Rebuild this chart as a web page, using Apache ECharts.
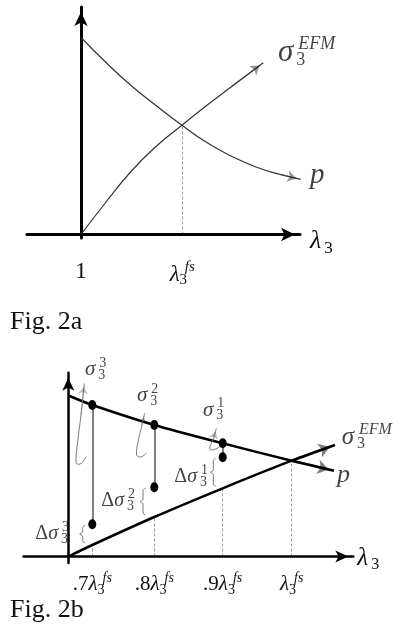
<!DOCTYPE html>
<html><head><meta charset="utf-8">
<script src="https://cdn.jsdelivr.net/npm/echarts@6/dist/echarts.min.js"></script>
<style>html,body{margin:0;padding:0;background:#fff}#c{width:400px;height:632px}</style>
</head><body><div id="c"></div>
<script>
// ================= Fig. 2a (schematic, arbitrary units) =================
const a_pCurve = [[0,1.97],[0.25,1.72],[0.5,1.49],[0.75,1.29],[1.0,1.10],[1.25,0.925],[1.5,0.785],[1.75,0.675],[2.0,0.598],[2.197,0.552]];
const a_sigmaCurve = [[0,0],[0.25,0.325],[0.5,0.63],[0.75,0.88],[1.0,1.085],[1.25,1.285],[1.5,1.475],[1.823,1.718]];
const a_fs = [1.013, 1.095];            // crossing point (λ3^fs, value)
const a_tickValues = [0, 1.013];
const a_tickLabels = [{main:'1'}, {main:'λ', sub:'3', sup:'fs'}];

// ================= Fig. 2b =================
const b_pLine = [[0,1.61],[0.24,1.515],[0.86,1.315],[1.544,1.132],[2.234,0.958],[2.657,0.858]];
const b_sigmaLine = [[0,0],[0.24,0.115],[0.86,0.395],[1.544,0.682],[2.234,0.958],[2.667,1.115]];
const b_tickValues = [0.24, 0.86, 1.544, 2.234];
const b_tickPrefix = ['.7', '.8', '.9', ''];
const b_sigmaAtTicks = [0.115, 0.395, 0.682, 0.958];
const b_topDots = [1.515, 1.315, 1.132];
const b_bottomDots = [0.322, 0.692, 0.992];
const b_braceX = [0.144, 0.747, 1.45];
const b_stepIndex = ['3', '2', '1'];
const b_curlyArrows = [
  [[0.177,0.998],[0.104,0.922],[0.077,0.948],[0.094,1.148],[0.127,1.415],[0.16,1.732]],
  [[0.78,1.035],[0.717,0.995],[0.682,1.025],[0.702,1.165],[0.737,1.315],[0.764,1.432]],
  [[1.514,1.098],[1.43,1.065],[1.414,1.082],[1.447,1.165],[1.48,1.282]]
];

// ---------------- helpers ----------------
const F = "'Liberation Serif','DejaVu Serif',serif";
const INK = '#111';
function rs(main, script) {
  const pd = Math.round(script * 0.8), pu = Math.round(script * 0.95);
  return {
    m: {fontFamily:F, fontStyle:'italic', fontSize:main, color:INK},
    u: {fontFamily:F, fontSize:main, color:INK},
    b: {fontFamily:F, fontSize:script, color:INK, width:1, padding:[pd,0,0,3]},
    bb: {fontFamily:F, fontSize:script, color:INK, padding:[pd,0,0,3]},
    t: {fontFamily:F, fontSize:script, color:INK, padding:[0,0,pu,0]},
    ti: {fontFamily:F, fontStyle:'italic', fontSize:script, color:INK, padding:[0,0,pu,1]}
  };
}
function tip(pts, px) {
  const a = pts[pts.length-2], b = pts[pts.length-1];
  const dx = b[0]-a[0], dy = b[1]-a[1], L = Math.hypot(dx, dy), s = px/100;
  return {coords:[a, [b[0]-dx/L*s, b[1]-dy/L*s]]};
}
function labelSeries(gi, items, main, script) {
  return {type:'scatter', xAxisIndex:gi, yAxisIndex:gi, symbolSize:0, clip:false, silent:true, z:10,
    label:{show:true, position:'right', distance:0, rich: rs(main, script)},
    data: items.map(it => ({value: it[0], label:{formatter: it[1]}}))};
}
function nearIdx(arr, v){ let k=0; arr.forEach((x,i)=>{ if(Math.abs(x-v)<Math.abs(arr[k]-v)) k=i; }); return k; }

const series = [];
// ---- Fig 2a ----
const thin = {color:'#333', width:1.2};
series.push({type:'line', xAxisIndex:0, yAxisIndex:0, data:a_pCurve, smooth:0.5, showSymbol:false, lineStyle:thin, silent:true});
series.push({type:'line', xAxisIndex:0, yAxisIndex:0, data:a_sigmaCurve, smooth:0.5, showSymbol:false, lineStyle:thin, silent:true});
series.push({type:'lines', coordinateSystem:'cartesian2d', xAxisIndex:0, yAxisIndex:0, symbol:['none','arrow'], symbolSize:9,
  lineStyle:thin, silent:true, data:[tip(a_pCurve,4.5), tip(a_sigmaCurve,4.5)]});
series.push({type:'lines', coordinateSystem:'cartesian2d', xAxisIndex:0, yAxisIndex:0, silent:true,
  lineStyle:{color:'#333', width:1, type:[3,2]}, data:[{coords:[[a_fs[0],0],[a_fs[0],a_fs[1]]]}]});
series.push(labelSeries(0, [[[1.97,1.815],'{m|σ}{b|3}{ti|EFM}']], 31, 18));
series.push(labelSeries(0, [[[2.29,0.595],'{m|p}']], 29, 16));

// ---- Fig 2b ----
const thick = {color:'#000', width:2.5};
series.push({type:'line', xAxisIndex:1, yAxisIndex:1, data:b_pLine, smooth:0.3, showSymbol:false, lineStyle:thick, silent:true});
series.push({type:'line', xAxisIndex:1, yAxisIndex:1, data:b_sigmaLine, smooth:0.3, showSymbol:false, lineStyle:thick, silent:true});
series.push({type:'lines', coordinateSystem:'cartesian2d', xAxisIndex:1, yAxisIndex:1, symbol:['none','arrow'], symbolSize:11,
  lineStyle:thick, silent:true, data:[tip(b_pLine,5.5), tip(b_sigmaLine,5.5)]});
series.push({type:'lines', coordinateSystem:'cartesian2d', xAxisIndex:1, yAxisIndex:1, silent:true,
  lineStyle:{color:'#333', width:1, type:[3,2]},
  data: b_tickValues.map((x,i)=>({coords:[[x,0],[x,b_sigmaAtTicks[i]]]}))});
series.push({type:'lines', coordinateSystem:'cartesian2d', xAxisIndex:1, yAxisIndex:1, silent:true,
  lineStyle:{color:'#000', width:2},
  data: b_topDots.map((y,i)=>({coords:[[b_tickValues[i],y],[b_tickValues[i],b_bottomDots[i]]]}))});
series.push({type:'scatter', xAxisIndex:1, yAxisIndex:1, symbol:'circle', symbolSize:[8,10], itemStyle:{color:'#000', opacity:1}, z:5, silent:true,
  data: b_topDots.map((y,i)=>[b_tickValues[i],y]).concat(b_bottomDots.map((y,i)=>[b_tickValues[i],y]))});
// braces
b_braceX.forEach((x,i)=>{
  const top = b_bottomDots[i]-0.01, bot = b_sigmaAtTicks[i]+0.02, mid=(top+bot)/2;
  series.push({type:'line', xAxisIndex:1, yAxisIndex:1, showSymbol:false, silent:true, smooth:0.2,
    lineStyle:{color:'#777', width:1},
    data:[[x+0.025,top],[x,top-0.02],[x,mid+0.02],[x-0.03,mid],[x,mid-0.02],[x,bot+0.02],[x+0.025,bot]]});
});
// curly arrows
b_curlyArrows.forEach(pts=>{
  series.push({type:'line', xAxisIndex:1, yAxisIndex:1, showSymbol:false, silent:true, smooth:0.5,
    lineStyle:{color:'#777', width:1}, data:pts});
});
series.push({type:'lines', coordinateSystem:'cartesian2d', xAxisIndex:1, yAxisIndex:1, symbol:['none','arrow'], symbolSize:7,
  silent:true, lineStyle:{color:'#777', width:1}, data:b_curlyArrows.map(p=>tip(p,3.5))});
// labels 2b
series.push(labelSeries(1, [
  [[0.167,1.87], '{m|σ}{b|3}{t|'+b_stepIndex[0]+'}'],
  [[0.687,1.61], '{m|σ}{b|3}{t|'+b_stepIndex[1]+'}'],
  [[1.347,1.465], '{m|σ}{b|3}{t|'+b_stepIndex[2]+'}']
], 21, 14));
series.push(labelSeries(1, [
  [[-0.33,0.225], '{u|Δ}{m|σ}{b|3}{t|'+b_stepIndex[0]+'}'],
  [[0.33,0.558], '{u|Δ}{m|σ}{b|3}{t|'+b_stepIndex[1]+'}'],
  [[1.06,0.798], '{u|Δ}{m|σ}{b|3}{t|'+b_stepIndex[2]+'}']
], 20, 14));
series.push(labelSeries(1, [[[2.734,1.19],'{m|σ}{b|3}{ti|EFM}']], 25, 16));
series.push(labelSeries(1, [[[2.687,0.815],'{m|p}']], 26, 16));

function axisLineStyle(w, size, off) {
  return {show:true, onZero:true, symbol:['none','arrow'], symbolSize:size, symbolOffset:[0,off], lineStyle:{color:'#000', width:w}};
}

const option = {
  animation:false,
  backgroundColor:'#fff',
  title:[
    {text:'Fig. 2a', left:5, top:304, textStyle:{fontFamily:F, fontSize:26, fontWeight:'normal', color:INK}},
    {text:'Fig. 2b', left:5, top:592, textStyle:{fontFamily:F, fontSize:26, fontWeight:'normal', color:INK}}
  ],
  grid:[
    {left:27, top:7, width:273, height:231},
    {left:23.5, top:372.7, width:329.8, height:190.3}
  ],
  xAxis:[
    {type:'value', gridIndex:0, min:-0.54, max:2.19,
     axisLine: axisLineStyle(3, [10,14], -5), axisTick:{show:false}, splitLine:{show:false},
     name:'{m|λ}{bb|3}', nameLocation:'end', nameGap:10,
     nameTextStyle:{padding:[14,0,0,0], rich: rs(26, 17)},
     axisLabel:{customValues:a_tickValues, margin:22, rich: rs(23, 15),
       formatter: v => { const t = a_tickLabels[nearIdx(a_tickValues, v)];
         return t.sub ? '{m|'+t.main+'}{b|'+t.sub+'}{ti|'+t.sup+'}' : '{u|'+t.main+'}'; }}},
    {type:'value', gridIndex:1, min:-0.448, max:2.85,
     axisLine: axisLineStyle(2.5, [9,13], -5), axisTick:{show:false}, splitLine:{show:false},
     name:'{m|λ}{bb|3}', nameLocation:'end', nameGap:4,
     nameTextStyle:{padding:[4,0,0,0], rich: rs(25, 16)},
     axisLabel:{customValues:b_tickValues, margin:8, rich: rs(21, 14),
       formatter: v => { const i = nearIdx(b_tickValues, v);
         return (b_tickPrefix[i] ? '{u|'+b_tickPrefix[i]+'}' : '') + '{m|λ}{b|3}{ti|fs}'; }}}
  ],
  yAxis:[
    {type:'value', gridIndex:0, min:-0.035, max:2.275, axisLine: axisLineStyle(3, [10,14], -5),
     axisTick:{show:false}, axisLabel:{show:false}, splitLine:{show:false}},
    {type:'value', gridIndex:1, min:-0.065, max:1.838, axisLine: axisLineStyle(2.5, [9,13], -5),
     axisTick:{show:false}, axisLabel:{show:false}, splitLine:{show:false}}
  ],
  series: series
};
const chart = echarts.init(document.getElementById('c'), null, {renderer:'canvas'});
chart.setOption(option);
</script>
</body></html>
